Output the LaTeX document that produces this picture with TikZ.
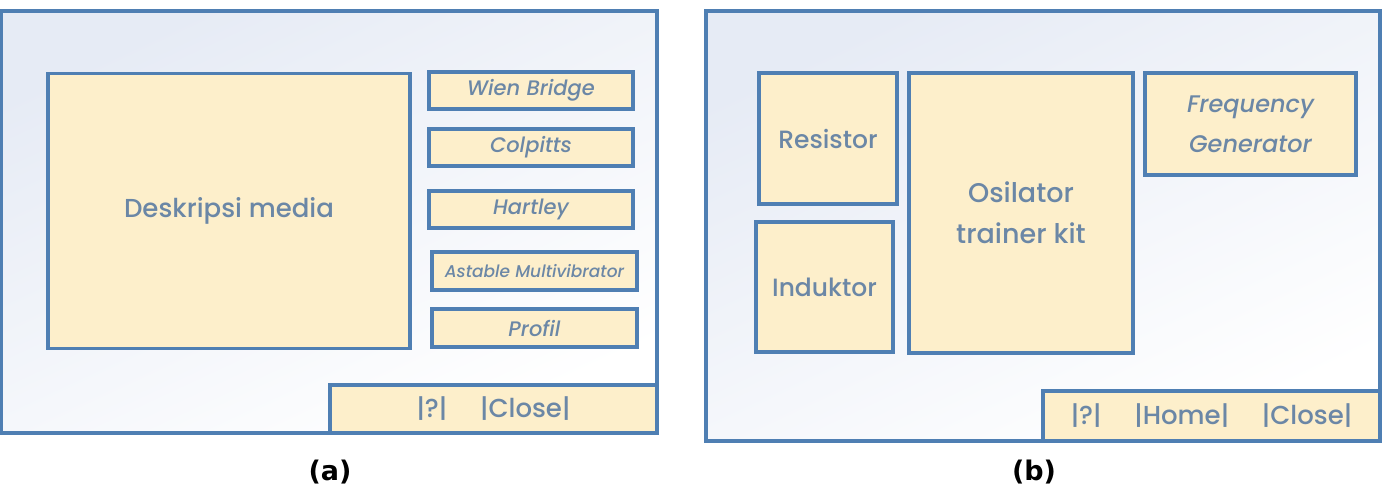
\documentclass[tikz,border=0pt]{standalone}
\usepackage{fontspec}
\setmainfont{Poppins}[UprightFont=* Medium, ItalicFont=* Medium Italic]
\newfontfamily\capfont{DejaVu Sans}
\usetikzlibrary{positioning}
\definecolor{FrameBlue}{HTML}{4F7FB3}
\definecolor{BoxCream}{HTML}{FDEFCB}
\definecolor{LabelBlue}{HTML}{6B87A6}
\definecolor{BackBlue}{HTML}{E6EBF5}
\tikzstyle{PanelNode}=[rectangle, draw=FrameBlue, line width=3.5pt, inner sep=0pt, top color=BackBlue, bottom color=white, shading angle=25]
\tikzstyle{BoxNode}=[rectangle, draw=FrameBlue, fill=BoxCream, line width=3.5pt, inner sep=0pt, text=LabelBlue, align=center, font=\fontsize{25}{41}\selectfont]
\tikzstyle{ButtonNode}=[BoxNode, minimum width=204pt, minimum height=37pt, font=\itshape\fontsize{21}{24}\selectfont]
\tikzstyle{BarNode}=[BoxNode, font=\fontsize{26}{30}\selectfont]
\tikzstyle{CaptionNode}=[font=\capfont\bfseries\fontsize{27}{30}\selectfont]

\begin{document}
\begin{tikzpicture}[x=1pt, y=-1pt]
    \useasboundingbox (0,0) rectangle (1382,498);

    % (a) main window
    \node (frameA) [PanelNode, minimum width=656pt, minimum height=422pt] at (329,222) {};
    \node (desc) [BoxNode, minimum width=362pt, minimum height=275pt, font=\fontsize{26}{30}\selectfont] at (229,211) {Deskripsi media};
    \node (wien) [ButtonNode] at (531,90.5) {Wien Bridge};
    \node (colpitts) [ButtonNode] at (531,147.5) {Colpitts};
    \node (hartley) [ButtonNode] at (531,209.5) {Hartley};
    \node (astable) [ButtonNode, minimum width=205pt, minimum height=38pt, font=\itshape\fontsize{17}{20}\selectfont] at (534.5,271) {Astable Multivibrator};
    \node (profil) [ButtonNode, minimum width=205pt, minimum height=38pt] at (534.5,328) {Profil};
    \node (barA) [BarNode, minimum width=327pt, minimum height=48pt] at (493.5,409) {|?|\quad\ |Close|};
    \node (capA) [CaptionNode] at (330,472) {(a)};

    % (b) materi window
    \node (frameB) [PanelNode, minimum width=674pt, minimum height=430pt] at (1043,226) {};
    \node (resistor) [BoxNode, minimum width=138pt, minimum height=131pt] at (828,138.5) {Resistor};
    \node (induktor) [BoxNode, minimum width=137pt, minimum height=130pt] at (824.5,287) {Induktor};
    \node (kit) [BoxNode, minimum width=224pt, minimum height=280pt, font=\fontsize{27}{41}\selectfont] at (1021,213) {Osilator\\trainer kit};
    \node (freq) [BoxNode, minimum width=211pt, minimum height=102pt, font=\itshape\fontsize{24}{40}\selectfont] at (1250.5,124) {Frequency\\Generator};
    \node (barB) [BarNode, minimum width=337pt, minimum height=50pt] at (1211.5,416) {|?|\quad\ |Home|\quad\ |Close|};
    \node (capB) [CaptionNode] at (1034,472) {(b)};
\end{tikzpicture}
\end{document}
